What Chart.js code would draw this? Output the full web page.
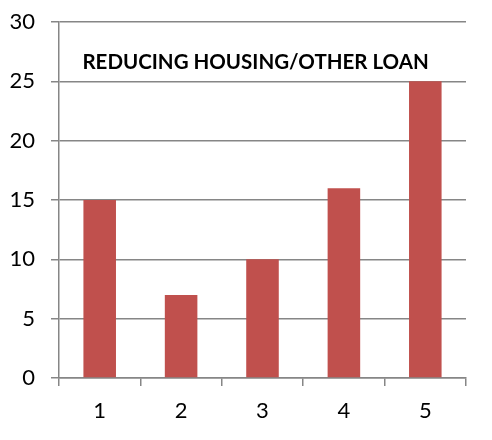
<!DOCTYPE html>
<html>
<head>
<meta charset="utf-8">
<script src="https://cdn.jsdelivr.net/npm/chart.js@4"></script>
<style>
  html, body { margin: 0; padding: 0; background: #ffffff; }
  #wrap { width: 492px; height: 440px; }
</style>
</head>
<body>
<div id="wrap"><canvas id="c" width="492" height="440"></canvas></div>
<script>
const categories = ['1', '2', '3', '4', '5'];
const loanValues = [15, 7, 10, 16, 25];
const yTicks = [0, 5, 10, 15, 20, 25, 30];
const chartTitle = 'REDUCING HOUSING/OTHER LOAN';

const axisGray = '#868686';
const barRed = '#C0504D';
const fontFamily = 'Lato, "Liberation Sans", sans-serif';

// Title drawn inside the plot area, above the bars
const innerTitle = {
  id: 'innerTitle',
  afterDatasetsDraw(chart) {
    const { ctx, chartArea } = chart;
    ctx.save();
    ctx.font = 'bold 20.5px ' + fontFamily;
    ctx.fillStyle = '#000000';
    ctx.textAlign = 'center';
    ctx.textBaseline = 'middle';
    ctx.fillText(chartTitle, chartArea.left + (chartArea.right - chartArea.left) * 0.483, chartArea.top + 40);
    ctx.restore();
  }
};

new Chart(document.getElementById('c'), {
  type: 'bar',
  data: {
    labels: categories,
    datasets: [{
      data: loanValues,
      backgroundColor: barRed,
      borderWidth: 0,
      categoryPercentage: 1.0,
      barPercentage: 0.4
    }]
  },
  options: {
    responsive: false,
    animation: false,
    devicePixelRatio: 1,
    layout: { padding: { top: 22, right: 26, left: 0, bottom: 0 } },
    plugins: {
      legend: { display: false },
      tooltip: { enabled: false },
      title: { display: false }
    },
    scales: {
      x: {
        grid: {
          display: true,
          drawOnChartArea: false,
          drawTicks: true,
          tickLength: 8,
          color: axisGray,
          lineWidth: 1.5,
          offset: true
        },
        border: { display: true, color: axisGray, width: 1.5 },
        ticks: {
          color: '#000000',
          font: { family: fontFamily, size: 22 },
          padding: 12
        },
        afterFit(scale) {
          scale.height = 62;
          scale.paddingLeft = 0;
          scale.paddingRight = 0;
        }
      },
      y: {
        min: 0,
        max: 30,
        afterBuildTicks(scale) { scale.ticks = yTicks.map(v => ({ value: v })); },
        grid: {
          color: axisGray,
          lineWidth: 1.5,
          tickLength: 8,
          drawTicks: true
        },
        border: { display: true, color: axisGray, width: 1.5 },
        ticks: {
          color: '#000000',
          font: { family: fontFamily, size: 22 },
          padding: 16
        },
        afterFit(scale) {
          scale.width = 59;
          scale.paddingTop = 0;
          scale.paddingBottom = 0;
        }
      }
    }
  },
  plugins: [innerTitle]
});
</script>
</body>
</html>
